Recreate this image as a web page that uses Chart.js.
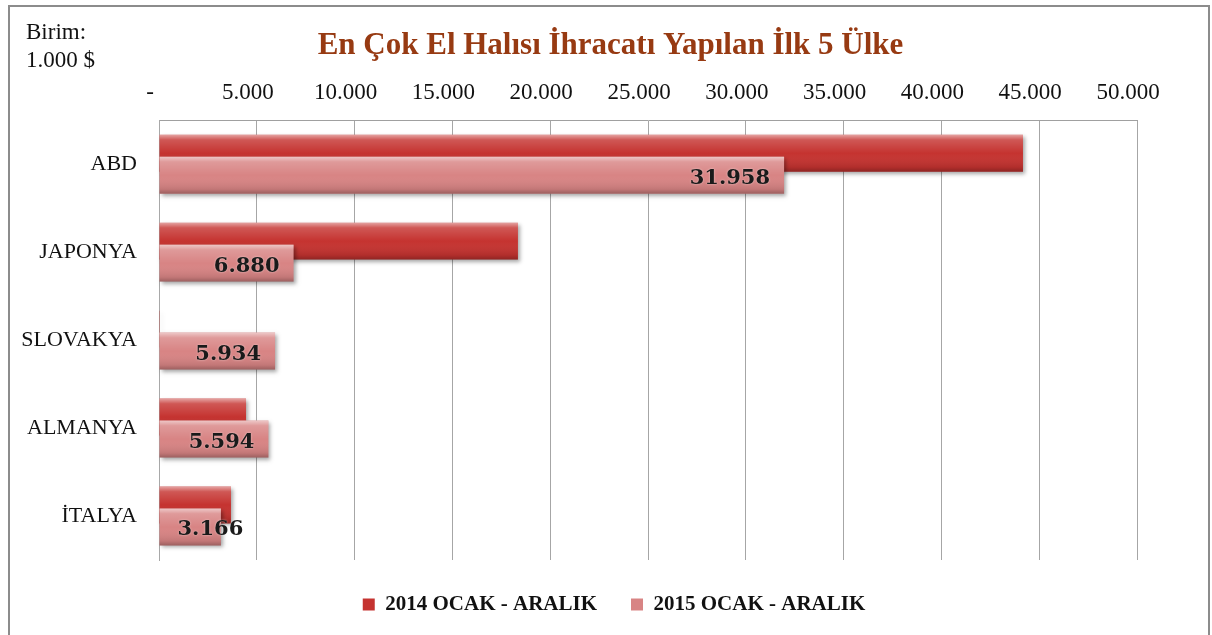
<!DOCTYPE html>
<html lang="tr">
<head>
  <meta charset="UTF-8">
  <title>En Çok El Halısı İhracatı Yapılan İlk 5 Ülke</title>
  <script src="https://cdn.jsdelivr.net/npm/chart.js"></script>
  <style>
    body {
      margin: 0;
      background: #fff;
      overflow: hidden;
    }
    .frame {
      position: absolute;
      left: 8px;
      top: 5px;
      width: 1202px;
      height: 700px;
      border: 2px solid #8c8c8c;
      box-sizing: border-box;
    }
    .unit {
      position: absolute;
      left: 26px;
      top: 18px;
      font-family: "Liberation Serif", serif;
      font-size: 23px;
      line-height: 28px;
      color: #111;
    }
    canvas {
      position: absolute;
      left: 0;
      top: 0;
    }
  </style>
</head>
<body>
  <div class="frame"></div>
  <canvas id="exportChart" width="1212" height="635"></canvas>
  <div class="unit">Birim:<br>1.000 $</div>

  <script>
    // values in 1.000 $
    const countries = ['ABD', 'JAPONYA', 'SLOVAKYA', 'ALMANYA', 'İTALYA'];
    const exports2014 = [44170, 18350, 40, 4450, 3680];
    const exports2015 = [31958, 6880, 5934, 5594, 3166];
    const seriesNames = ['2014 OCAK - ARALIK', '2015 OCAK - ARALIK'];
    const tickLabels = ['-', '5.000', '10.000', '15.000', '20.000', '25.000',
                        '30.000', '35.000', '40.000', '45.000', '50.000'];

    const serif = '"Liberation Serif", "Times New Roman", serif';

    function fmt(v) {
      return v.toLocaleString('de-DE');
    }

    // draw 2014 first so the 2015 bar sits on top, plus bevel + value labels
    const barPainter = {
      id: 'barPainter',
      afterLayout(chart) {
        // center title and legend on the whole picture, not the plot
        chart.titleBlock.left = 0;
        chart.titleBlock.right = 1221;
        chart.legend.left = 0;
        chart.legend.right = 1228;
      },
      beforeDatasetsDraw(chart) {
        const ctx = chart.ctx;
        [0, 1].forEach(i => {
          const meta = chart.getDatasetMeta(i);
          ctx.save();
          ctx.shadowColor = 'rgba(0,0,0,0.35)';
          ctx.shadowBlur = 4;
          ctx.shadowOffsetX = 2;
          ctx.shadowOffsetY = 2;
          meta.controller.draw();
          ctx.restore();

          meta.data.forEach(bar => {
            const p = bar.getProps(['x', 'y', 'base', 'height'], true);
            const top = p.y - p.height / 2;
            const left = Math.min(p.base, p.x);
            const w = Math.abs(p.x - p.base);
            if (w < 1) return;
            const g = ctx.createLinearGradient(0, top, 0, top + p.height);
            g.addColorStop(0, 'rgba(255,255,255,0.55)');
            g.addColorStop(0.14, 'rgba(255,255,255,0.18)');
            g.addColorStop(0.5, 'rgba(255,255,255,0)');
            g.addColorStop(0.88, 'rgba(0,0,0,0.10)');
            g.addColorStop(1, 'rgba(0,0,0,0.28)');
            ctx.fillStyle = g;
            ctx.fillRect(left, top, w, p.height);
          });
        });

        // value labels on the 2015 bars
        const meta = chart.getDatasetMeta(1);
        ctx.save();
        ctx.font = 'bold 21px "DejaVu Serif", serif';
        ctx.fillStyle = '#1a1a1a';
        ctx.textAlign = 'right';
        ctx.textBaseline = 'middle';
        ctx.shadowColor = 'rgba(255,255,255,0.6)';
        ctx.shadowBlur = 2;
        meta.data.forEach((bar, i) => {
          const p = bar.getProps(['x', 'y', 'base'], true);
          const text = fmt(exports2015[i]);
          const tw = ctx.measureText(text).width;
          const x = Math.max(p.x - 14, p.base + tw + 18);
          ctx.fillText(text, x, p.y + 3);
        });
        ctx.restore();
        return false;
      }
    };

    const ctx = document.getElementById('exportChart').getContext('2d');

    new Chart(ctx, {
      type: 'bar',
      data: {
        labels: countries,
        datasets: [{
          label: seriesNames[0],
          data: exports2014,
          backgroundColor: '#c53330',
          borderWidth: 0
        }, {
          label: seriesNames[1],
          data: exports2015,
          backgroundColor: '#d88484',
          borderWidth: 0
        }]
      },
      options: {
        indexAxis: 'y',
        responsive: false,
        animation: false,
        categoryPercentage: 0.5,
        barPercentage: 1.68,
        layout: {
          padding: { left: 0, right: 75, top: 0, bottom: 10 }
        },
        scales: {
          x: {
            position: 'top',
            min: 0,
            max: 50000,
            ticks: {
              stepSize: 5000,
              padding: 13,
              labelOffset: -9,
              color: '#111',
              font: { family: serif, size: 23 },
              callback: (v, i) => tickLabels[i]
            },
            grid: {
              color: '#a6a6a6',
              drawTicks: false
            },
            border: { color: '#a0a0a0' },
            afterFit(scale) {
              scale.height = 42;
            }
          },
          y: {
            ticks: {
              padding: 22,
              color: '#111',
              font: { family: serif, size: 22 }
            },
            grid: { display: false, drawTicks: false },
            border: { color: '#a8a8a8' },
            afterFit(scale) {
              scale.width = 159;
            }
          }
        },
        plugins: {
          title: {
            display: true,
            text: 'En Çok El Halısı İhracatı Yapılan İlk 5 Ülke',
            color: '#973a12',
            font: { family: serif, size: 31, weight: 'bold' },
            padding: { top: 27, bottom: 14 }
          },
          legend: {
            position: 'bottom',
            labels: {
              boxWidth: 12,
              boxHeight: 12,
              padding: 34,
              color: '#111',
              font: { family: serif, size: 21, weight: 'bold' }
            }
          },
          tooltip: { enabled: false }
        }
      },
      plugins: [barPainter]
    });
  </script>
</body>
</html>
